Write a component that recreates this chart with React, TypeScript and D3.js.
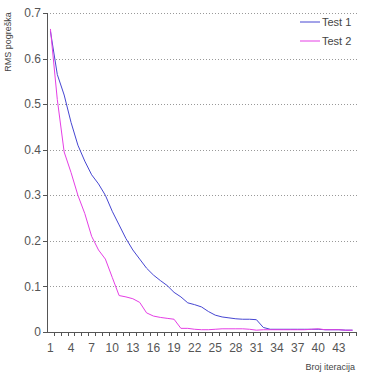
import React from "react";
import * as d3 from "d3";

// iterations 1..45
const iterations = d3.range(1, 46);

const test1 = [
  0.66, 0.565, 0.52, 0.46, 0.41, 0.375, 0.345, 0.325, 0.3, 0.265,
  0.235, 0.205, 0.18, 0.16, 0.14, 0.125, 0.113, 0.102, 0.087, 0.077,
  0.064, 0.06, 0.055, 0.045, 0.037, 0.033, 0.031, 0.029, 0.028, 0.028,
  0.027, 0.01, 0.006, 0.006, 0.006, 0.006, 0.006, 0.006, 0.006, 0.006,
  0.005, 0.005, 0.005, 0.004, 0.004,
];

const test2 = [
  0.665, 0.51, 0.395, 0.35, 0.3, 0.26, 0.21, 0.18, 0.16, 0.12,
  0.08, 0.077, 0.073, 0.065, 0.042, 0.035, 0.032, 0.03, 0.028, 0.008,
  0.008, 0.006, 0.005, 0.005, 0.006, 0.007, 0.007, 0.007, 0.007, 0.006,
  0.004, 0.005, 0.005, 0.005, 0.005, 0.005, 0.005, 0.005, 0.006, 0.007,
  0.005, 0.005, 0.005, 0.004, 0.004,
];

const yTicks = [0, 0.1, 0.2, 0.3, 0.4, 0.5, 0.6, 0.7];

const series = [
  { name: "Test 1", values: test1, color: "#4646d2" },
  { name: "Test 2", values: test2, color: "#e53ee5" },
];

const App = () => {
  const width = 366;
  const height = 375;
  const left = 47;
  const right = 356;
  const top = 13;
  const bottom = 332;

  const x = d3
    .scaleBand<number>()
    .domain(iterations)
    .range([left, right])
    .padding(0);

  const y = d3.scaleLinear().domain([0, 0.7]).range([bottom, top]);

  const line = d3
    .line<number>()
    .x((_, i) => (x(iterations[i]) as number) + x.bandwidth() / 2)
    .y((d) => y(d));

  const font = "Liberation Sans, Arial, sans-serif";

  return (
    <svg
      width={width}
      height={height}
      style={{ position: "absolute", left: 0, top: 0, background: "#fff" }}
      fontFamily={font}
    >
      {/* grid */}
      {yTicks
        .filter((t) => t > 0)
        .map((t) => (
          <line
            key={t}
            x1={left}
            x2={right + 2}
            y1={Math.round(y(t)) + 0.5}
            y2={Math.round(y(t)) + 0.5}
            stroke="#999"
            strokeWidth={1}
            strokeDasharray="1,2"
          />
        ))}

      {/* y axis */}
      <line x1={left + 0.5} x2={left + 0.5} y1={top} y2={bottom} stroke="#555" />
      {yTicks.map((t) => (
        <g key={t}>
          <line
            x1={left - 4}
            x2={left}
            y1={Math.round(y(t)) + 0.5}
            y2={Math.round(y(t)) + 0.5}
            stroke="#555"
          />
          <text
            x={left - 6}
            y={y(t)}
            dy="0.35em"
            textAnchor="end"
            fontSize={12}
            fill="#555"
          >
            {t === 0 ? "0" : t.toFixed(1)}
          </text>
        </g>
      ))}

      {/* x axis */}
      <line x1={left} x2={right} y1={bottom + 0.5} y2={bottom + 0.5} stroke="#555" />
      {iterations.map((it) => (
        <line
          key={it}
          x1={Math.round((x(it) as number) + x.bandwidth()) + 0.5}
          x2={Math.round((x(it) as number) + x.bandwidth()) + 0.5}
          y1={bottom}
          y2={bottom + 4}
          stroke="#555"
        />
      ))}
      {iterations
        .filter((it) => (it - 1) % 3 === 0)
        .map((it) => (
          <text
            key={it}
            x={(x(it) as number) + x.bandwidth() / 2}
            y={352}
            textAnchor="middle"
            fontSize={12}
            fill="#555"
          >
            {it}
          </text>
        ))}

      {/* series */}
      {series.map((s) => (
        <path
          key={s.name}
          d={line(s.values) as string}
          fill="none"
          stroke={s.color}
          strokeWidth={1}
        />
      ))}

      {/* legend */}
      {series.map((s, i) => (
        <g key={s.name} transform={`translate(300, ${22 + i * 19})`}>
          <line x1={0} x2={20} y1={0} y2={0} stroke={s.color} />
          <text x={22} y={0} dy="0.35em" fontSize={11} fill="#444">
            {s.name}
          </text>
        </g>
      ))}

      {/* axis titles */}
      <text
        transform={`translate(11, 42) rotate(-90)`}
        textAnchor="middle"
        fontSize={9}
        fill="#444"
      >
        RMS pogreška
      </text>
      <text x={355} y={370} textAnchor="end" fontSize={9} fill="#444">
        Broj iteracija
      </text>
    </svg>
  );
};

export default App;
